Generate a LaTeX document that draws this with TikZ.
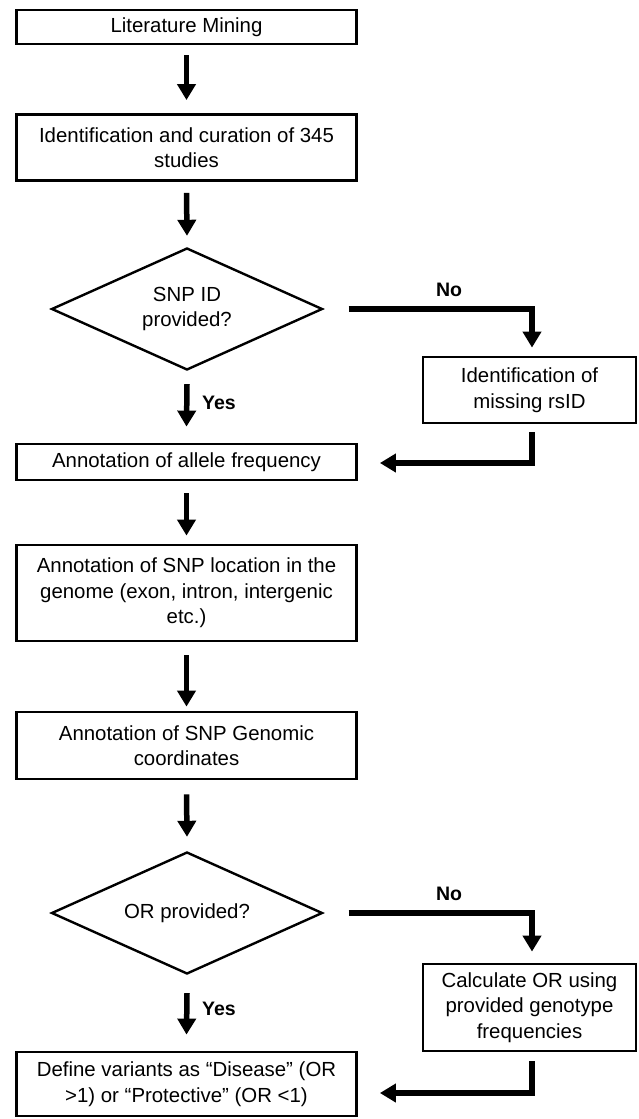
\documentclass[tikz,border=0pt]{standalone}
\usepackage{fontspec}
\setmainfont{Liberation Sans}
\usetikzlibrary{arrows.meta,shapes.geometric}
\begin{document}
\begin{tikzpicture}[x=1pt,y=-1pt,
  every node/.style={font=\fontsize{20.4}{25.5}\selectfont, align=center, inner sep=0pt},
  boxnode/.style={draw, line width=2.8pt, minimum width=340pt},
  sidebox/.style={draw, line width=2.8pt, minimum width=213pt},
  decision/.style={draw, diamond, line width=2.4pt, minimum width=271pt, minimum height=122pt, aspect=2.2},
  arr/.style={line width=5.5pt, line join=miter, -{Triangle[length=16pt,width=18pt]}},
  lbl/.style={font=\fontsize{19.5}{23}\selectfont\bfseries}
]
\useasboundingbox (0,0) rectangle (638,1119);

\node[boxnode, minimum height=34pt] (b1) at (186.5,27) {Literature Mining};
\node[boxnode, minimum height=66pt] (b2) at (186.5,147.5) {Identification and curation of 345\\studies};
\node[decision] (d1) at (187,309) {SNP ID\\provided?};
\node[sidebox, minimum height=66pt] (r1) at (529.5,390) {Identification of\\missing rsID};
\node[boxnode, minimum height=36pt] (b4) at (186.5,462) {Annotation of allele frequency};
\node[boxnode, minimum height=96pt] (b5) at (186.5,593) {Annotation of SNP location in the\\genome (exon, intron, intergenic\\etc.)};
\node[boxnode, minimum height=67pt] (b6) at (186.5,745.5) {Annotation of SNP Genomic\\coordinates};
\node[decision] (d2) at (187,913) {OR provided?};
\node[sidebox, minimum height=87pt] (r2) at (529.5,1007.5) {Calculate OR using\\provided genotype\\frequencies};
\node[boxnode, minimum height=64pt] (b8) at (186.5,1084) {Define variants as “Disease” (OR\\>1) or “Protective” (OR <1)};

\draw[arr] ([yshift=-10pt]b1.south) -- ([yshift=13pt]b2.north);
\draw[arr] ([yshift=-11pt]b2.south) -- ([yshift=11pt]d1.north);
\draw[arr] ([yshift=-13pt]d1.south) -- ([yshift=16pt]b4.north);
\draw[arr] ([yshift=-12pt]b4.south) -- ([yshift=8pt]b5.north);
\draw[arr] ([yshift=-13pt]b5.south) -- ([yshift=4pt]b6.north);
\draw[arr] ([yshift=-14pt]b6.south) -- ([yshift=14pt]d2.north);
\draw[arr] ([yshift=-18pt]d2.south) -- ([yshift=16pt]b8.north);

\draw[arr] ([xshift=25pt]d1.east) -| ([xshift=2.5pt,yshift=8pt]r1.north);
\draw[arr] ([xshift=25pt]d2.east) -| ([xshift=2.5pt,yshift=11pt]r2.north);
\draw[arr] ([xshift=2.5pt,yshift=-8pt]r1.south) |- ([xshift=22pt,yshift=-1pt]b4.east);
\draw[arr] ([xshift=2.5pt,yshift=-9pt]r2.south) |- ([xshift=22pt,yshift=-9pt]b8.east);

\node[lbl] (no1) at (449,290) {No};
\node[lbl] (no2) at (449,894) {No};
\node[lbl, anchor=west] (yes1) at (202,403) {Yes};
\node[lbl, anchor=west] (yes2) at (202,1009) {Yes};
\end{tikzpicture}
\end{document}
